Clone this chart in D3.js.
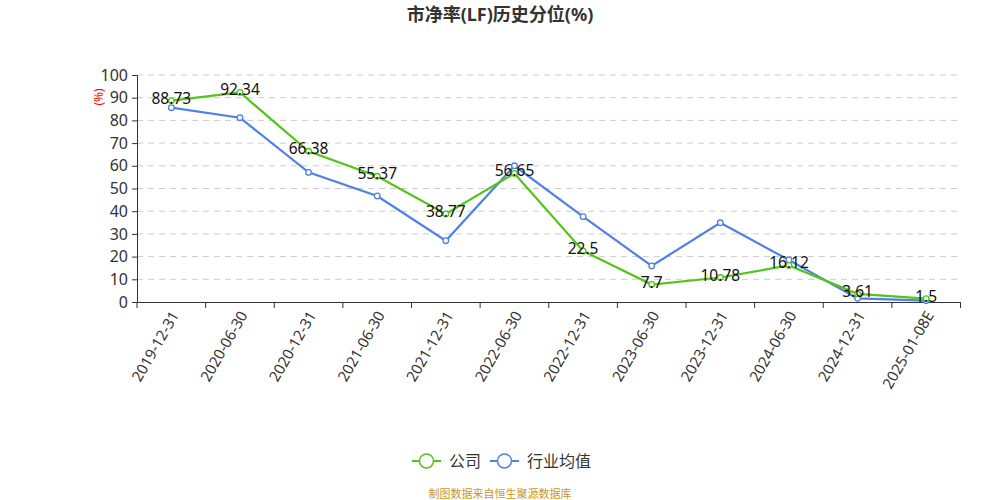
<!DOCTYPE html>
<html><head><meta charset="utf-8">
<script src="https://cdn.jsdelivr.net/npm/d3@7/dist/d3.min.js"></script>
<style>body{margin:0;background:#fff;} text{font-family:"Noto Sans","Noto Sans CJK SC",sans-serif;}</style>
</head><body><svg id="c" width="1000" height="500"></svg>
<script>
const categories = ["2019-12-31","2020-06-30","2020-12-31","2021-06-30","2021-12-31","2022-06-30","2022-12-31","2023-06-30","2023-12-31","2024-06-30","2024-12-31","2025-01-08E"];
const companyValues = [88.73,92.34,66.38,55.37,38.77,56.65,22.5,7.7,10.78,16.12,3.61,1.5];
const industryValues = [85.6,81.2,57.1,46.7,27.0,60.0,37.6,15.9,34.9,18.5,1.6,0.6];
const yTicks = [0,10,20,30,40,50,60,70,80,90,100];
const seriesNames = ["公司","行业均值"];
const colors = ["#52c41a","#4e80e6"];

const svg = d3.select("#c");
const L=137, R=960.5, T=75, B=302;
const x = d3.scaleBand().domain(categories).range([L,R]);
const y = d3.scaleLinear().domain([0,100]).range([B,T]);

svg.append("text").attr("x",500).attr("y",21).attr("text-anchor","middle")
  .attr("font-size",18).attr("font-weight","bold").attr("fill","#333").text("市净率(LF)历史分位(%)");

// grid
svg.append("g").selectAll("line").data(yTicks.filter(d=>d>0)).join("line")
  .attr("x1",L).attr("x2",R).attr("y1",d=>y(d)).attr("y2",d=>y(d))
  .attr("stroke","#ccc").attr("stroke-dasharray","6,5");

// y axis
const ya = svg.append("g").attr("transform",`translate(${L},0)`)
  .call(d3.axisLeft(y).tickValues(yTicks).tickSize(5).tickPadding(4));
ya.select(".domain").attr("stroke","#333");
ya.selectAll(".tick line").attr("stroke","#333");
ya.selectAll("text").attr("font-size",16).attr("fill","#333").attr("font-family",'"Noto Sans",sans-serif');

svg.append("text").attr("transform","translate(98,97) rotate(-90)").attr("text-anchor","middle")
  .attr("dominant-baseline","central").attr("font-size",12).attr("fill","#f00").text("(%)");

// x axis
const xa = svg.append("g").attr("transform",`translate(0,${B})`)
  .call(d3.axisBottom(x).tickSize(0).tickFormat(""));
xa.select(".domain").attr("stroke","#333");
svg.append("g").selectAll("line").data(d3.range(categories.length+1)).join("line")
  .attr("x1",i=>L+i*x.step()).attr("x2",i=>L+i*x.step()).attr("y1",B).attr("y2",B+6).attr("stroke","#333");
svg.append("g").selectAll("text").data(categories).join("text")
  .attr("transform",d=>`translate(${x(d)+x.bandwidth()/2+3},${B+10}) rotate(-60)`)
  .attr("text-anchor","end").attr("dominant-baseline","central")
  .attr("font-size",15).attr("fill","#333").text(d=>d);

const cx = d=>x(d)+x.bandwidth()/2;
const series = [companyValues, industryValues];
[1,0].forEach(si=>{
  const vals = series[si];
  const data = categories.map((c,i)=>({c,v:vals[i]}));
  svg.append("path").datum(data).attr("fill","none").attr("stroke",colors[si]).attr("stroke-width",2.2)
    .attr("d",d3.line().x(d=>cx(d.c)).y(d=>y(d.v)));
  svg.append("g").selectAll("circle").data(data).join("circle")
    .attr("cx",d=>cx(d.c)).attr("cy",d=>y(d.v)).attr("r",2.8)
    .attr("fill","#fff").attr("stroke",colors[si]).attr("stroke-width",1.3);
});
// labels for company
svg.append("g").selectAll("text").data(categories.map((c,i)=>({c,v:companyValues[i]}))).join("text")
  .attr("x",d=>cx(d.c)).attr("y",d=>y(d.v)-3).attr("text-anchor","middle").attr("dominant-baseline","central")
  .attr("font-size",15.5).attr("fill","#111").text(d=>d.v);

// legend
const lg = svg.append("g");
const lx=[412,490], tx=[449,527];
seriesNames.forEach((n,i)=>{
  lg.append("line").attr("x1",lx[i]).attr("x2",lx[i]+29).attr("y1",461).attr("y2",461).attr("stroke",colors[i]).attr("stroke-width",2);
  lg.append("circle").attr("cx",lx[i]+14.5).attr("cy",461).attr("r",7).attr("fill","#fff").attr("stroke",colors[i]).attr("stroke-width",1.5);
  lg.append("text").attr("x",tx[i]).attr("y",461).attr("dominant-baseline","central").attr("font-size",16).attr("fill","#333").text(n);
});
svg.append("text").attr("x",500).attr("y",493).attr("text-anchor","middle").attr("dominant-baseline","central")
  .attr("font-size",11).attr("fill","#c9962c").text("制图数据来自恒生聚源数据库");
</script></body></html>
